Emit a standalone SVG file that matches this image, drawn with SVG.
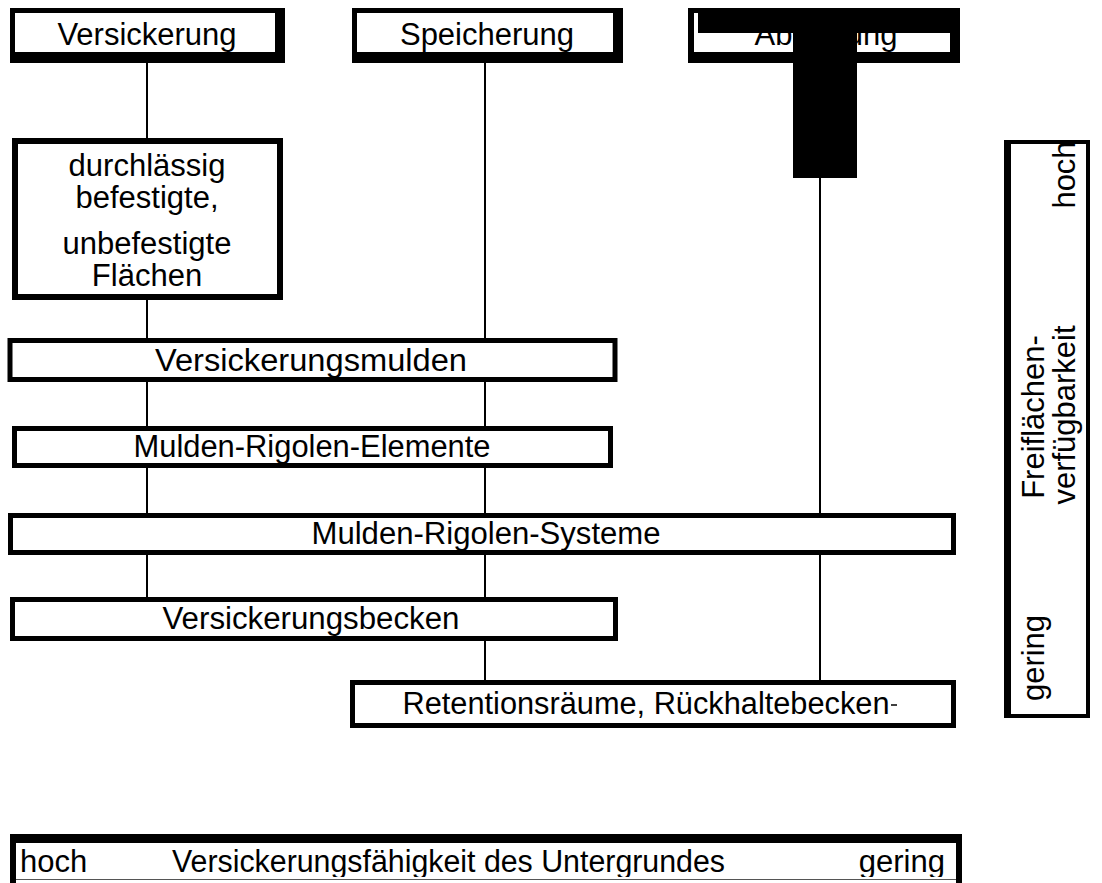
<svg xmlns="http://www.w3.org/2000/svg" width="1102" height="883" viewBox="0 0 1102 883">
<style>
text{font-family:"Liberation Sans",Arial,sans-serif;font-size:31px;fill:#000}
.c{text-anchor:middle}
.blk{fill:#000}
.wht{fill:#fff}
.brd{fill:none;stroke:#000;stroke-width:5}
.ln{stroke:#000;stroke-width:2;fill:none}
</style>
<rect width="1102" height="883" fill="#fff"/>
<g id="connectors">
<line class="ln" x1="147" y1="63" x2="147" y2="138"/>
<line class="ln" x1="147" y1="300" x2="147" y2="340"/>
<line class="ln" x1="147" y1="380" x2="147" y2="427"/>
<line class="ln" x1="147" y1="467" x2="147" y2="514"/>
<line class="ln" x1="147" y1="554" x2="147" y2="598"/>
<line class="ln" x1="485" y1="63" x2="485" y2="340"/>
<line class="ln" x1="485" y1="380" x2="485" y2="427"/>
<line class="ln" x1="485" y1="467" x2="485" y2="514"/>
<line class="ln" x1="485" y1="554" x2="485" y2="598"/>
<line class="ln" x1="485" y1="640" x2="485" y2="681"/>
<line class="ln" x1="820" y1="178" x2="820" y2="681"/>
</g>
<g id="n-versickerung">
<rect class="blk" x="10" y="8" width="275" height="55"/>
<rect class="wht" x="15" y="13" width="260" height="39"/>
<text class="c" x="147" y="45">Versickerung</text>
</g>
<g id="n-speicherung">
<rect class="blk" x="352" y="8" width="271" height="55"/>
<rect class="wht" x="357" y="13" width="256" height="39"/>
<text class="c" x="487" y="45">Speicherung</text>
</g>
<g id="n-abfuehrung">
<rect class="blk" x="688" y="8" width="272" height="55"/>
<rect class="wht" x="694" y="13" width="256" height="39"/>
<text class="c" x="826" y="45">Abführung</text>
<rect class="blk" x="698" y="13" width="252" height="20"/>
<rect class="blk" x="793" y="13" width="64" height="165"/>
</g>
<g id="n-durchlaessig">
<rect class="blk" x="12" y="138" width="271" height="162"/>
<rect class="wht" x="18" y="144" width="259" height="150"/>
<text class="c" x="147" y="176">durchlässig</text>
<text class="c" x="147" y="208">befestigte,</text>
<text class="c" x="147" y="254">unbefestigte</text>
<text class="c" x="147" y="286">Flächen</text>
</g>
<g id="n-mulden">
<rect class="wht" x="10" y="340" width="605" height="40"/>
<text class="c" x="311" y="371" textLength="312" lengthAdjust="spacingAndGlyphs">Versickerungsmulden</text>
<rect class="brd" x="10" y="340.5" width="605" height="39"/>
</g>
<g id="n-elemente">
<rect class="wht" x="14" y="428" width="597" height="38"/>
<text class="c" x="312" y="457" textLength="357" lengthAdjust="spacingAndGlyphs">Mulden-Rigolen-Elemente</text>
<rect class="brd" x="14.5" y="428.5" width="596" height="37"/>
</g>
<g id="n-systeme">
<rect class="wht" x="10" y="515" width="943" height="38"/>
<text class="c" x="486" y="544" textLength="349" lengthAdjust="spacingAndGlyphs">Mulden-Rigolen-Systeme</text>
<rect class="brd" x="10.5" y="515.5" width="943" height="37"/>
</g>
<g id="n-becken">
<rect class="wht" x="12" y="599" width="603" height="40"/>
<text class="c" x="311" y="629" textLength="297" lengthAdjust="spacingAndGlyphs">Versickerungsbecken</text>
<rect class="brd" x="12.5" y="599.5" width="603" height="39"/>
</g>
<g id="n-retention">
<rect class="wht" x="352" y="682" width="602" height="44"/>
<text class="c" x="646" y="714" textLength="487" lengthAdjust="spacingAndGlyphs">Retentionsräume, Rückhaltebecken</text>
<line x1="891" y1="705" x2="897" y2="705" stroke="#000" stroke-width="1.5"/>
<rect class="brd" x="352.5" y="682.5" width="601" height="43"/>
</g>
<g id="n-freiflaechen">
<rect class="blk" x="1004" y="140" width="86" height="578"/>
<rect class="wht" x="1011" y="144" width="75" height="570"/>
<text class="c" transform="translate(1075,175) rotate(-90)">hoch</text>
<text class="c" transform="translate(1044,417) rotate(-90)">Freiflächen-</text>
<text class="c" transform="translate(1075,415) rotate(-90)">verfügbarkeit</text>
<text class="c" transform="translate(1044,658) rotate(-90)">gering</text>
</g>
<g id="n-untergrund">
<rect class="blk" x="10" y="834" width="952" height="49"/>
<rect class="wht" x="16" y="843" width="940" height="40"/>
<text x="20" y="872">hoch</text>
<text x="172" y="872" textLength="553" lengthAdjust="spacingAndGlyphs">Versickerungsfähigkeit des Untergrundes</text>
<text x="945" y="872" style="text-anchor:end">gering</text>
<rect class="wht" x="16" y="877" width="940" height="6"/>
<line x1="16" y1="879.5" x2="956" y2="879.5" stroke="#555" stroke-width="1"/>
</g>
</svg>
